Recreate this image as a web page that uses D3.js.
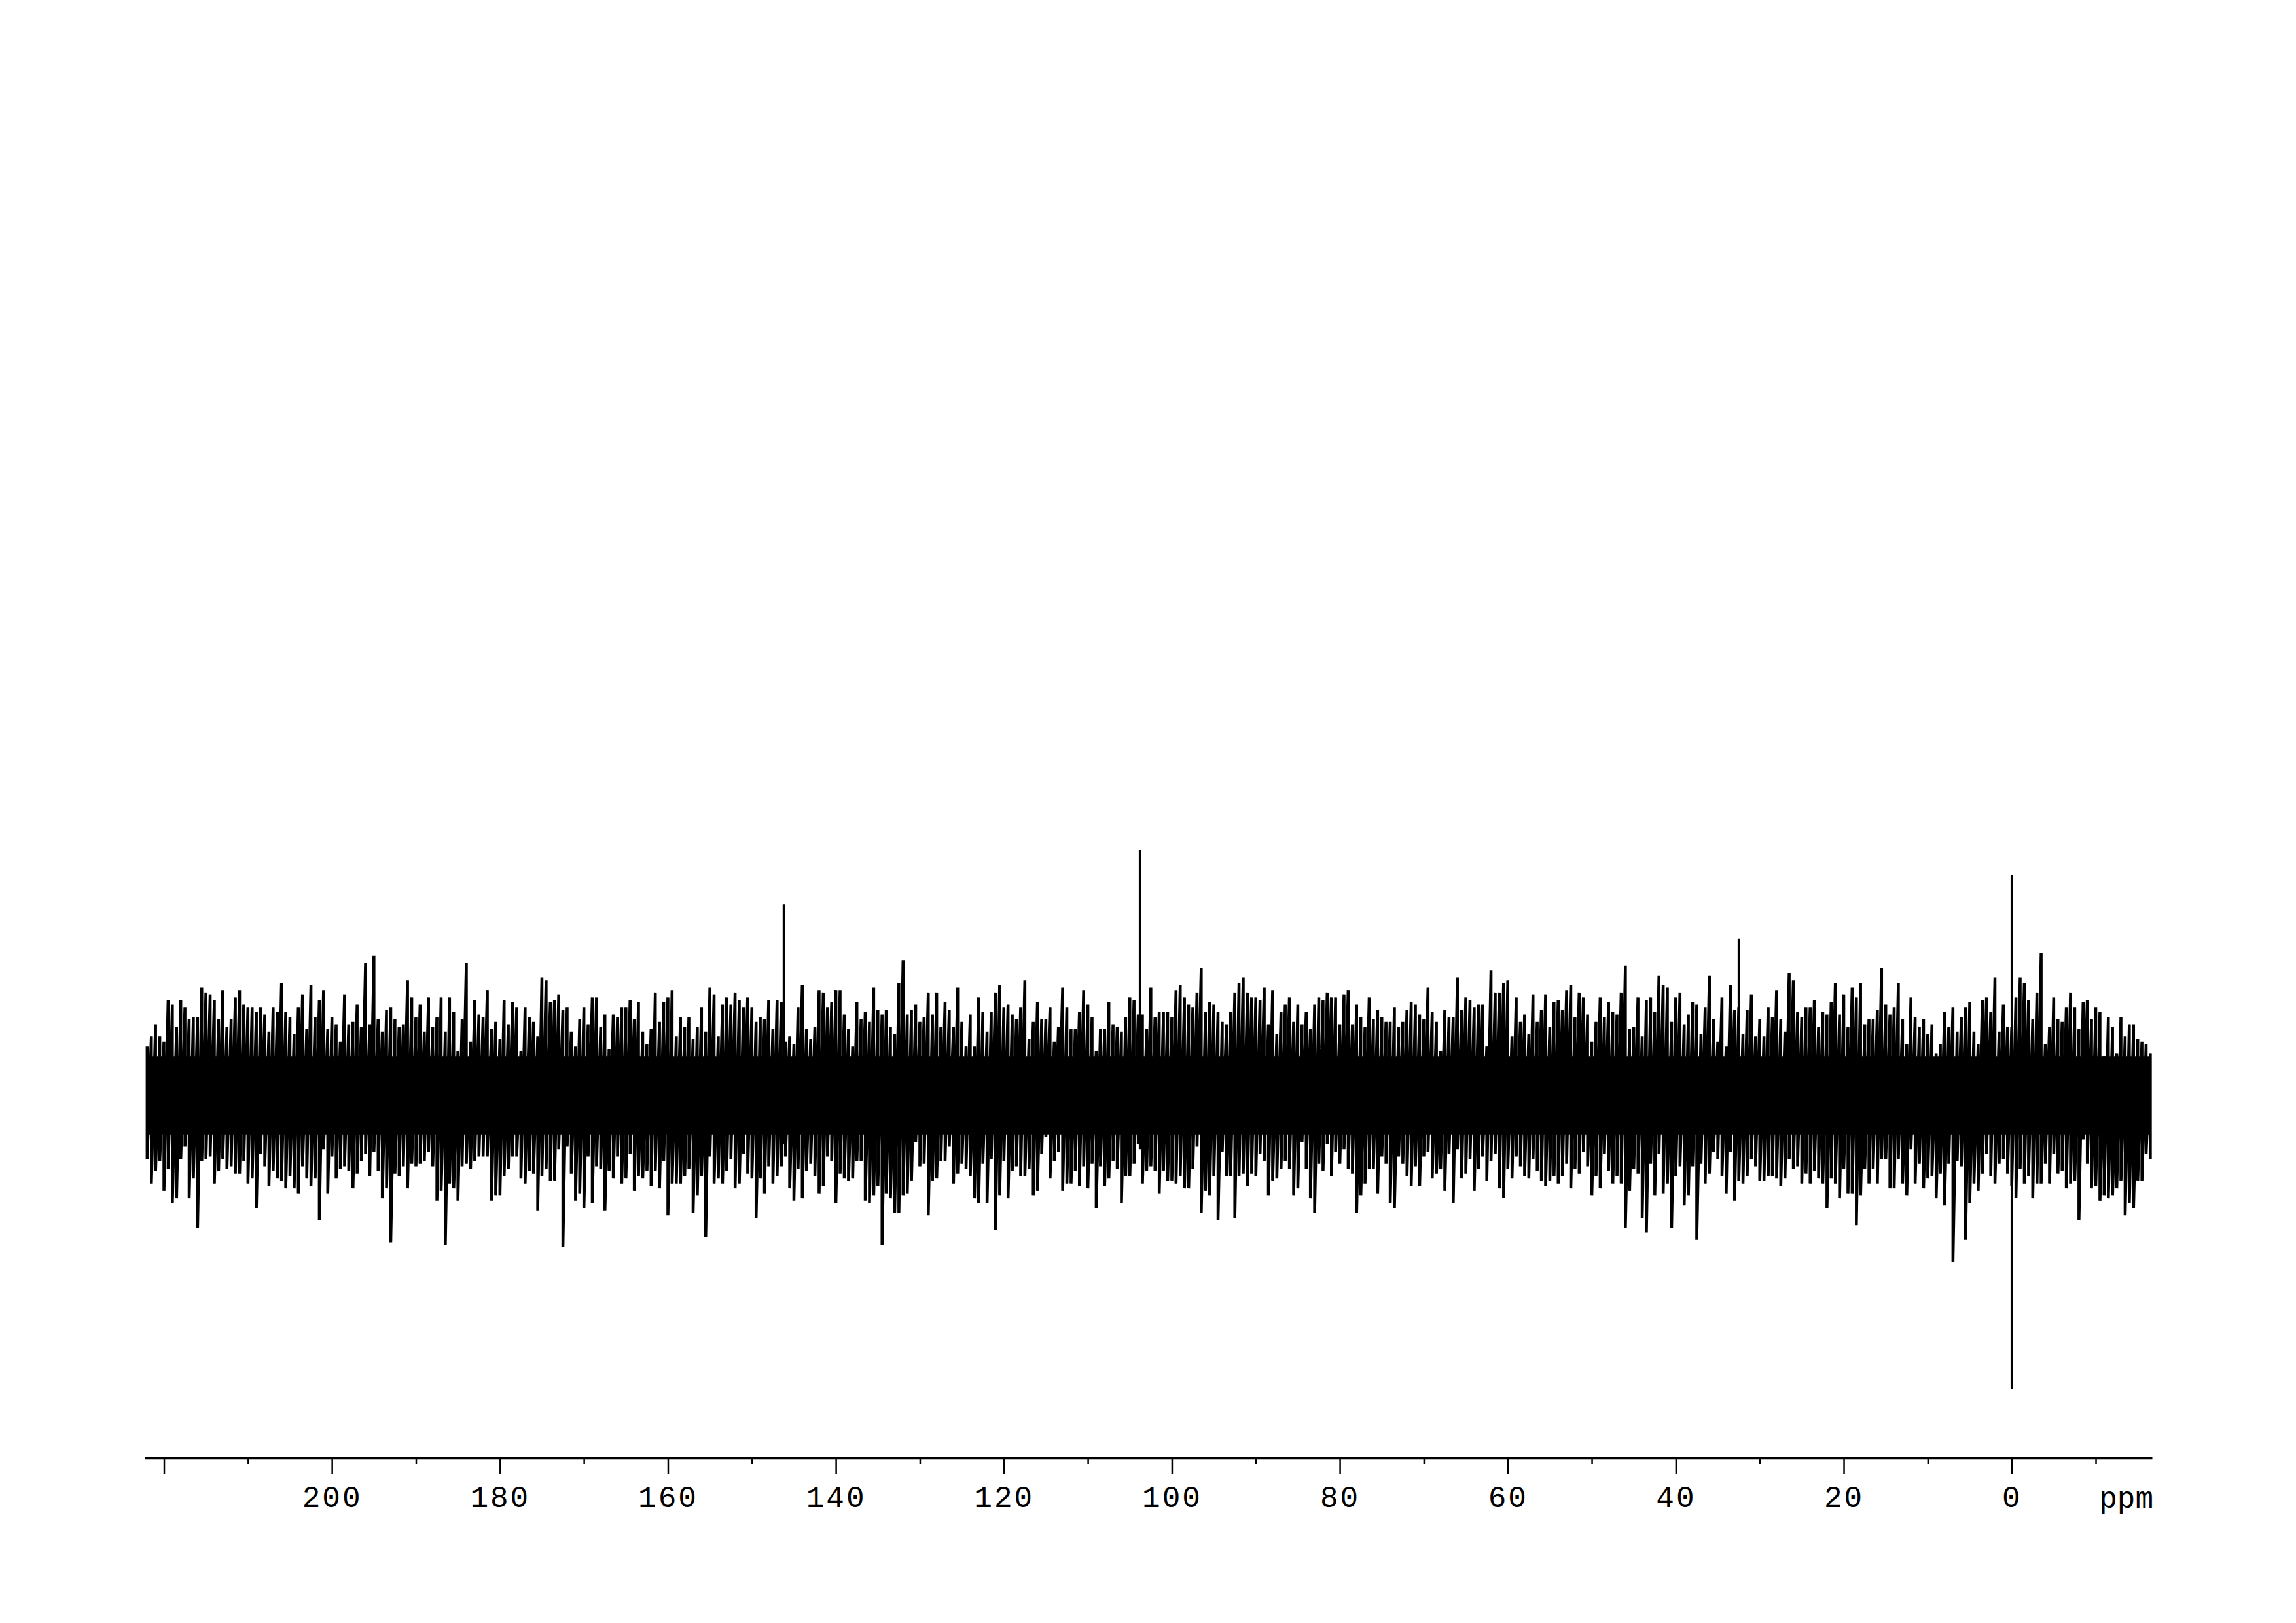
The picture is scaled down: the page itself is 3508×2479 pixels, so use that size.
<!DOCTYPE html>
<html>
<head>
<meta charset="utf-8">
<script src="https://cdn.jsdelivr.net/npm/d3@7"></script>
<style>
  body { margin: 0; background: #fff; }
  svg { display: block; }
</style>
</head>
<body>
<svg id="spectrum"></svg>
<script>
//Spectrum sampling: one envelope value every 0.5 ppm, from 222 ppm down to -16.5 ppm
var ppmStart = 222;
var ppmStep = 0.5;

//Upper tips of the noise (arbitrary intensity, largest peak = 100)
var upper = [
  20,24,29,24,22,39,37,28,39,36, 31,32,32,44,42,41,39,31,43,28,
  31,40,43,37,36,36,34,36,33,26, 36,34,46,34,32,25,36,41,27,45,
  32,39,43,27,32,29,22,41,29,30, 37,28,54,29,57,31,26,35,36,31,
  28,29,47,40,32,37,26,40,28,32, 40,26,40,34,18,31,54,22,39,33,
  32,43,27,30,23,39,29,38,36,18, 36,32,30,24,48,47,38,39,41,35,
  36,26,20,31,36,29,40,40,28,33, 19,33,32,36,36,39,31,38,26,21,
  27,42,30,38,40,43,24,32,28,32, 23,28,36,26,44,41,24,37,40,37,
  42,39,36,40,36,30,32,31,39,27, 39,38,22,24,21,36,45,27,23,
  28,43,42,36,38,43,43,33,27,20, 38,31,34,30,44,35,33,35,28,25,
  46,55,33,35,37,30,32,42,33,42, 28,38,35,28,44,30,20,33,20,40,
  34,26,34,42,45,36,37,33,31,36, 47,23,30,38,31,31,36,22,28,44,
  36,27,27,34,43,37,32,18,27,27, 38,29,28,26,32,40,39,33,33,27,
  44,32,34,34,34,32,43,45,40,37, 36,42,52,34,38,37,34,30,29,34,
  42,46,48,42,40,40,39,44,29,43, 25,34,37,40,30,37,29,34,27,37,
  40,39,42,40,40,29,41,43,29,37, 32,28,40,31,35,32,30,30,36,28,
  30,35,38,37,33,31,44,34,30,18, 35,32,32,48,35,40,39,36,37,
  37,20,51,42,42,46,47,24,40,30, 33,25,41,30,35,41,28,38,39,35,
  43,45,32,42,40,33,22,30,40,32, 38,34,33,42,53,27,28,40,24,39,
  40,34,49,45,44,30,40,42,29,33, 38,37,25,36,49,31,22,40,20,45,
  35,36,25,35,41,24,31,24,36,32, 43,31,26,50,47,34,32,36,36,39,
  28,34,33,38,46,33,41,28,44,40, 46,29,31,31,35,52,37,33,36,46,
  31,21,40,32,28,31,25,29,17,21, 34,28,36,26,32,36,38,26,21,39,
  40,34,48,26,37,28,28,40,48,46, 39,31,42,58,21,28,40,31,30,36,
  42,36,27,38,39,31,36,34,16,32, 28,17,32,24,29,29,23,22,21,17
];

//Lower tips of the noise
var lower = [
  -26,-36,-31,-27,-39,-30,-44,-42,-26,-21, -42,-34,-54,-27,-26,-25,-36,-31,-26,-30,
  -29,-32,-32,-27,-36,-34,-46,-24,-29,-37, -31,-34,-35,-38,-33,-38,-40,-29,-34,-37,
  -34,-51,-22,-40,-25,-34,-30,-29,-31,-38, -32,-27,-24,-33,-23,-31,-42,-38,-60,-32,
  -33,-29,-38,-28,-29,-28,-27,-23,-29,-43, -39,-61,-36,-38,-43,-29,-28,-30,-27,-25,
  -25,-25,-43,-41,-41,-33,-30,-25,-25,-34, -36,-31,-32,-47,-33,-30,-35,-35,-22,-62,
  -21,-32,-43,-40,-46,-25,-44,-29,-30,-47, -31,-34,-25,-36,-34,-24,-39,-33,-34,-31,
  -37,-31,-38,-27,-49,-36,-36,-36,-33,-30, -48,-41,-33,-58,-25,-36,-34,-36,-31,-26,
  -38,-36,-24,-32,-34,-50,-34,-40,-29,-36, -33,-29,-25,-38,-43,-30,-42,-31,-28,
  -33,-40,-37,-25,-27,-44,-32,-34,-35,-34, -27,-27,-43,-44,-41,-37,-61,-40,-42,-48,
  -48,-41,-40,-35,-19,-29,-28,-49,-35,-34, -27,-27,-21,-36,-32,-28,-30,-33,-42,-44,
  -28,-44,-26,-55,-41,-27,-42,-31,-29,-33, -33,-30,-41,-39,-24,-17,-34,-27,-23,-39,
  -36,-36,-31,-37,-29,-38,-28,-46,-29,-37, -34,-27,-30,-44,-33,-33,-28,-20,-36,-31,
  -29,-31,-40,-31,-35,-35,-36,-33,-38,-38, -30,-21,-48,-39,-41,-33,-51,-23,-33,-33,
  -50,-33,-32,-37,-32,-33,-24,-27,-41,-35, -34,-30,-27,-30,-41,-38,-19,-30,-42,-48,
  -28,-31,-20,-33,-23,-28,-22,-30,-32,-48, -41,-36,-30,-30,-40,-25,-28,-44,-46,-25,
  -28,-33,-37,-29,-37,-25,-23,-34,-32,-30, -39,-24,-44,-22,-34,-32,-26,-39,-30,
  -25,-35,-27,-24,-38,-42,-30,-34,-25,-29, -33,-34,-26,-31,-35,-37,-35,-33,-36,-33,
  -28,-38,-30,-32,-23,-29,-41,-33,-38,-24, -31,-36,-33,-36,-54,-39,-30,-32,-50,-56,
  -28,-41,-24,-40,-36,-54,-33,-29,-45,-41, -29,-59,-28,-36,-32,-23,-26,-33,-40,-23,
  -43,-35,-36,-33,-26,-29,-35,-35,-33,-33, -34,-37,-34,-26,-30,-29,-36,-32,-36,-31,
  -34,-36,-46,-34,-36,-42,-30,-40,-40,-53, -41,-30,-36,-30,-36,-26,-26,-38,-38,-26,
  -36,-41,-22,-36,-28,-38,-34,-33,-42,-32, -45,-28,-68,-27,-29,-59,-44,-36,-39,-32,
  -24,-33,-36,-28,-26,-32,-37,-42,-30,-36, -33,-42,-36,-36,-28,-36,-24,-32,-31,-38,
  -36,-35,-51,-18,-28,-38,-37,-43,-41,-42, -41,-38,-35,-49,-44,-46,-35,-35,-24,-26
];

//Dense central band of the noise
var noiseCore = [-16, 16];

//Resolved signals
var peakPpm = [146.2, 103.8, 32.5, 0];
var peakTop = [78, 100, 64, 90];
var peakBottom = [-20, -22, -25, -120];

//Axis ticks
var majorTicks = [220, 200, 180, 160, 140, 120, 100, 80, 60, 40, 20, 0];
var tickLabels = ["", "200", "180", "160", "140", "120", "100", "80", "60", "40", "20", "0"];
var minorTicks = [210, 190, 170, 150, 130, 110, 90, 70, 50, 30, 10, -10];
var unitLabel = "ppm";

var labelFont = "'Liberation Mono', 'Courier New', monospace";

function drawSpectrum() {
    var width = 3508,
        height = 2479,
        axisY = 2227;

    var svg = d3.select("#spectrum")   //Set size of the page SVG
        .attr("width", width)
        .attr("height", height);

    var x = d3.scaleLinear().domain([222.3, -16.7]).range([221, 3288]),   //ppm runs right to left
        y = d3.scaleLinear().domain([0, 100]).range([1673, 1299]);

    var points = upper.map(function(u, i) {
        return {ppm: ppmStart - i * ppmStep, hi: u, lo: lower[i]};
    });

    //Solid middle of the noise band
    var core = d3.area()
        .x(function(d) { return x(d.ppm); })
        .y0(y(noiseCore[0]))
        .y1(y(noiseCore[1]));

    svg.append("path")
        .datum(points)
        .attr("d", core)
        .attr("fill", "#000");

    //Trace: each sample drops from its upper tip to its lower tip, then rises to the next one
    var vertices = [];
    points.forEach(function(d) {
        vertices.push([d.ppm, d.hi]);
        vertices.push([d.ppm, d.lo]);
    });

    var trace = d3.line()
        .x(function(d) { return x(d[0]); })
        .y(function(d) { return y(d[1]); });

    svg.append("path")
        .datum(vertices)
        .attr("d", trace)
        .attr("fill", "none")
        .attr("stroke", "#000")
        .attr("stroke-width", 4.5)
        .attr("stroke-linejoin", "bevel");

    //Sharp peaks
    svg.append("g")
        .attr("class", "peaks")
      .selectAll("line")
        .data(peakPpm)
        .enter().append("line")
        .attr("x1", function(d) { return x(d); })
        .attr("x2", function(d) { return x(d); })
        .attr("y1", function(d, i) { return y(peakBottom[i]); })
        .attr("y2", function(d, i) { return y(peakTop[i]); })
        .attr("stroke", "#000")
        .attr("stroke-width", 3.5);

    //Major ticks with labels
    var major = svg.append("g")
        .attr("transform", "translate(0," + axisY + ")")
        .call(d3.axisBottom(x)
            .tickValues(majorTicks)
            .tickSize(25)
            .tickSizeOuter(0)
            .tickPadding(17)
            .tickFormat(function(d, i) { return tickLabels[i]; }))
        .attr("font-family", labelFont)   //after call, the axis sets its own font
        .attr("font-size", 46);

    major.select(".domain").attr("stroke-width", 3.5);
    major.selectAll(".tick line").attr("stroke-width", 2.5);
    major.selectAll(".tick text").attr("letter-spacing", 3);

    //Minor ticks
    var minor = svg.append("g")
        .attr("transform", "translate(0," + axisY + ")")
        .call(d3.axisBottom(x)
            .tickValues(minorTicks)
            .tickSize(9)
            .tickSizeOuter(0)
            .tickFormat(""));

    minor.select(".domain").remove();
    minor.selectAll(".tick line").attr("stroke-width", 2.5);

    //Unit label at the right end of the axis
    svg.append("text")
        .attr("x", 3290)
        .attr("y", axisY + 76)
        .attr("font-family", labelFont)
        .attr("font-size", 46)
        .style("text-anchor", "end")
        .text(unitLabel);
}

drawSpectrum();
</script>
</body>
</html>
